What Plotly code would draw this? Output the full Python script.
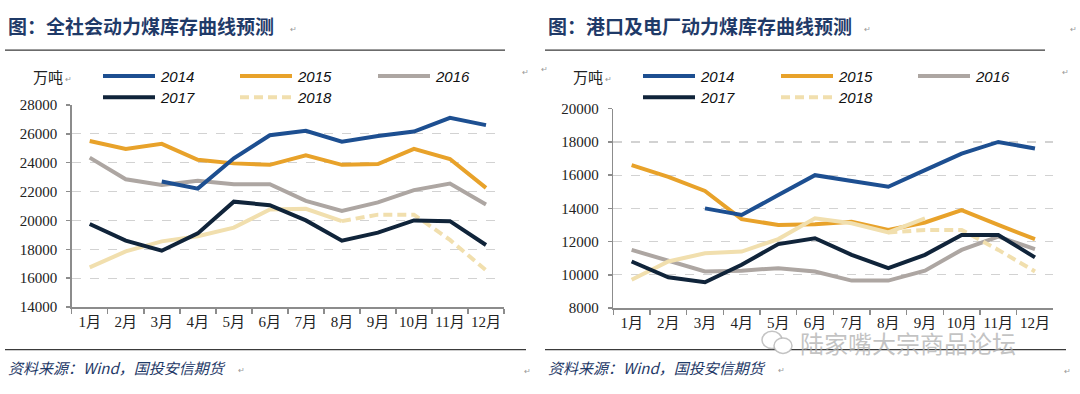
import plotly.graph_objects as go

# ---------------- data ----------------
months = ["1月", "2月", "3月", "4月", "5月", "6月", "7月", "8月", "9月", "10月", "11月", "12月"]
years = ["2014", "2015", "2016", "2017", "2018"]

# left chart: 全社会动力煤库存 (万吨)
left_2014 = [None, None, 22700, 22200, 24300, 25900, 26200, 25450, 25850, 26150, 27100, 26600]
left_2015 = [25500, 24950, 25300, 24200, 23950, 23850, 24500, 23850, 23900, 24950, 24250, 22250]
left_2016 = [24350, 22850, 22450, 22750, 22500, 22500, 21350, 20650, 21250, 22100, 22550, 21100]
left_2017 = [19750, 18600, 17900, 19100, 21300, 21050, 20000, 18600, 19150, 20000, 19950, 18300]
left_2018_months = ["1月", "2月", "3月", "4月", "5月", "6月", "7月", "8月"]
left_2018 = [16750, 17850, 18550, 18900, 19500, 20750, 20800, 19950]
left_2018_fc_months = ["8月", "9月", "10月", "11月", "12月"]
left_2018_fc = [19950, 20400, 20400, 18650, 16550]

# right chart: 港口及电厂动力煤库存 (万吨)
right_2014 = [None, None, 14000, 13600, 14800, 16000, 15650, 15300, 16300, 17300, 18000, 17600]
right_2015 = [16600, 15900, 15050, 13350, 13000, 13050, 13200, 12700, 13150, 13900, 13000, 12150]
right_2016 = [11500, 10850, 10200, 10250, 10400, 10200, 9650, 9650, 10250, 11500, 12300, 11550]
right_2017 = [10800, 9850, 9550, 10600, 11850, 12200, 11200, 10400, 11200, 12400, 12400, 11050]
right_2018_months = ["1月", "2月", "3月", "4月", "5月", "6月", "7月", "8月", "9月"]
right_2018 = [9700, 10800, 11300, 11400, 12150, 13400, 13100, 12550, 13400]
right_2018_fc_months = ["8月", "9月", "10月", "11月", "12月"]
right_2018_fc = [12550, 12700, 12700, 11500, 10200]

left_title = "图：全社会动力煤库存曲线预测"
right_title = "图：港口及电厂动力煤库存曲线预测"
source_text = "资料来源：Wind，国投安信期货"
unit_text = "万吨"
watermark = "陆家嘴大宗商品论坛"

# ---------------- styles ----------------
C14, C15, C16, C17, C18 = "#1D4F91", "#E8A22A", "#ADA6A2", "#10243A", "#F1DFAE"
colors = [C14, C15, C16, C17, C18]
LW = 4
DASH = "9px,5px"
TITLE_BLUE = "#1F3A68"
AX = "#8c8c8c"
W, H = 1080, 394


def px(x):
    return x / W


def py(y):
    return 1 - y / H


fig = go.Figure()


def add_line(x, y, color, xa, ya, dash="solid"):
    fig.add_trace(go.Scatter(x=x, y=y, mode="lines", xaxis=xa, yaxis=ya,
                             line=dict(color=color, width=LW, dash=dash),
                             connectgaps=False, hoverinfo="skip"))


# left
add_line(months, left_2015, C15, "x", "y")
add_line(months, left_2016, C16, "x", "y")
add_line(months, left_2014, C14, "x", "y")
add_line(left_2018_months, left_2018, C18, "x", "y")
add_line(left_2018_fc_months, left_2018_fc, C18, "x", "y", DASH)
add_line(months, left_2017, C17, "x", "y")

# right
add_line(months, right_2016, C16, "x2", "y2")
add_line(months, right_2015, C15, "x2", "y2")
add_line(months, right_2014, C14, "x2", "y2")
add_line(right_2018_months, right_2018, C18, "x2", "y2")
add_line(right_2018_fc_months, right_2018_fc, C18, "x2", "y2", DASH)
add_line(months, right_2017, C17, "x2", "y2")

tickfont = dict(family="Liberation Serif, Noto Sans CJK SC, serif", size=15, color="#222222")

xcommon = dict(type="category", categoryorder="array", categoryarray=months,
               range=[-0.5, 11.5], showline=True, linecolor=AX, linewidth=1.5,
               ticks="outside", tickson="boundaries", ticklen=5, tickcolor=AX,
               tickwidth=1.5, showgrid=False, zeroline=False, tickfont=tickfont,
               tickangle=0, fixedrange=True)
ycommon = dict(dtick=2000, showline=True, linecolor=AX, linewidth=1.5,
               ticks="outside", ticklen=4, tickcolor=AX, tickwidth=1.5,
               showgrid=True, gridcolor="#d2d2d2", griddash="dash", gridwidth=1.3,
               zeroline=False, tickfont=tickfont, tickformat="d",
               ticklabelstandoff=6, fixedrange=True)

fig.update_layout(
    width=W, height=H, margin=dict(l=0, r=0, t=0, b=0),
    paper_bgcolor="white", plot_bgcolor="white", showlegend=False,
    xaxis=dict(domain=[px(71.7), px(504)], anchor="y", **xcommon),
    yaxis=dict(domain=[py(311.7), py(101)], anchor="x", range=[14000, 28000],
               tick0=14000, **ycommon),
    xaxis2=dict(domain=[px(613.3), px(1053.3)], anchor="y2", **xcommon),
    yaxis2=dict(domain=[py(312.7), py(105)], anchor="x2", range=[8000, 20000],
                tick0=8000, **ycommon),
)

shapes = []
annotations = []


def text(x, y, s, size, color="#222222", family="Noto Sans CJK SC", xanchor="left",
         bold=False, italic=False):
    if bold:
        s = "<b>" + s + "</b>"
    if italic:
        s = "<i>" + s + "</i>"
    annotations.append(dict(x=px(x), y=py(y), xref="paper", yref="paper", text=s,
                            showarrow=False, xanchor=xanchor, yanchor="middle",
                            font=dict(family=family, size=size, color=color)))


def hline(x0, x1, y, color, width, dash="solid"):
    shapes.append(dict(type="line", xref="paper", yref="paper", x0=px(x0), x1=px(x1),
                       y0=py(y), y1=py(y), line=dict(color=color, width=width, dash=dash)))


RET = "↵"
for off, title, tlen in [(0, left_title, 284), (540, right_title, 858)]:
    # title
    text(6 + off, 18, title, 19, TITLE_BLUE, "Noto Sans CJK SC", bold=True)
    text(tlen + 4, 21, RET, 8, "#999999")
    hline(5 + off, 505 + off, 44, "#3a3a3a", 1.2)
    # unit
    text(31 + off, 71, unit_text, 15, "#222222")
    text(63 + off, 73, RET, 8, "#999999")
    # legend
    leg = [(103, 71, 0), (240, 71, 1), (378, 71, 2), (103, 93, 3), (240, 93, 4)]
    for lx, ly, i in leg:
        lx2 = lx + off + (1 if off and i in (1, 4) else 0)
        hline(lx2, lx2 + 52, ly, colors[i], LW, DASH if i == 4 else "solid")
        text(lx2 + 55, ly, years[i], 15, "#111111",
             "Liberation Sans, Arial, sans-serif", italic=True)
    # footer
    hline(5 + off, 526 + off, 356, "#3a3a3a", 1.2)
    text(6 + off, 375, source_text, 15, TITLE_BLUE, "Noto Sans CJK SC", italic=True)
    text(236 + off, 377, RET, 8, "#999999")
    text(522 + off, 378, RET, 8, "#999999")
    text(520 + off, 66, RET, 8, "#999999")

text(1068, 21, RET, 8, "#999999")
text(539, 63, RET, 8, "#999999")

# watermark
text(798, 349, watermark, 24, "rgba(175,175,175,0.75)", "Noto Sans CJK SC")
shapes.append(dict(type="circle", xref="paper", yref="paper", x0=px(762), x1=px(782),
                   y0=py(355), y1=py(337), line=dict(color="rgba(175,175,175,0.75)", width=1.5)))
shapes.append(dict(type="circle", xref="paper", yref="paper", x0=px(774), x1=px(792),
                   y0=py(360), y1=py(344), fillcolor="white",
                   line=dict(color="rgba(175,175,175,0.75)", width=1.5)))

fig.update_layout(shapes=shapes, annotations=annotations)
fig.write_html("out.html", config={"displayModeBar": False, "staticPlot": True},
               post_script="document.body.style.margin='0';document.body.style.overflow='hidden';")
